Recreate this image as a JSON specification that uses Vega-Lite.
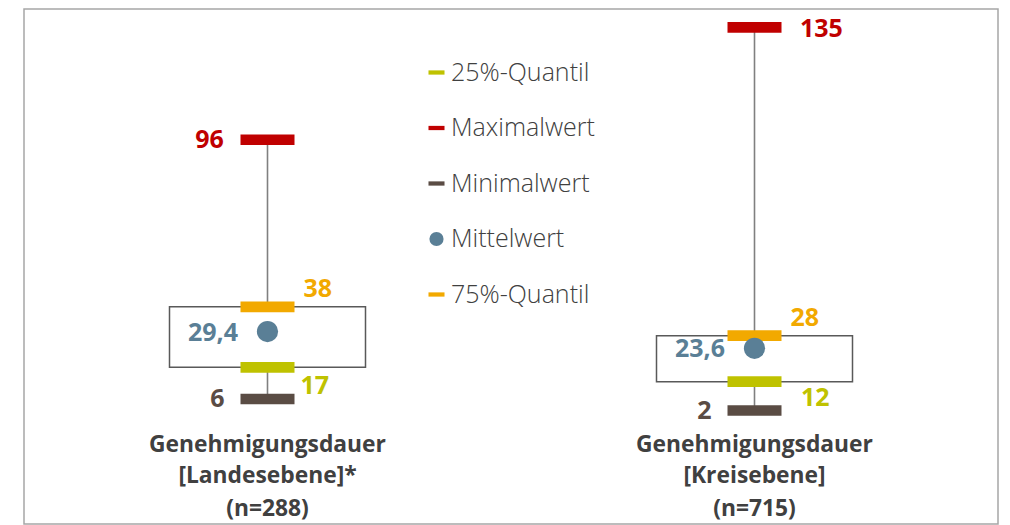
{
  "$schema": "https://vega.github.io/schema/vega-lite/v6.json",
  "width": 974,
  "height": 515,
  "autosize": "none",
  "padding": {"left": 24, "top": 9, "right": 12, "bottom": 1},
  "background": "white",
  "config": {
    "view": {"stroke": "#a6a6a6", "strokeWidth": 1.5},
    "locale": {"number": {"decimal": ",", "thousands": ".", "grouping": [3], "currency": ["", " €"]}},
    "text": {"font": "Open Sans"}
  },
  "data": {
    "values": [
      {"group": "L", "name": "Genehmigungsdauer\n[Landesebene]*", "n": "(n=288)", "25%-Quantil": 17, "Maximalwert": 96, "Minimalwert": 6, "Mittelwert": 29.4, "75%-Quantil": 38},
      {"group": "K", "name": "Genehmigungsdauer\n[Kreisebene]", "n": "(n=715)", "25%-Quantil": 12, "Maximalwert": 135, "Minimalwert": 2, "Mittelwert": 23.6, "75%-Quantil": 28}
    ]
  },
  "encoding": {
    "x": {"field": "group", "type": "nominal", "sort": ["L", "K"], "axis": null,
          "scale": {"type": "band", "paddingInner": 0, "paddingOuter": 0}}
  },
  "resolve": {"legend": {"color": "independent", "shape": "independent"}},
  "layer": [
    {
      "mark": {"type": "rule", "color": "#808080", "strokeWidth": 1.6},
      "encoding": {
        "y": {"field": "Minimalwert", "type": "quantitative", "axis": null,
              "scale": {"domain": [-37.4, 141.4], "nice": false, "zero": false}},
        "y2": {"field": "Maximalwert"}
      }
    },
    {
      "mark": {"type": "bar", "width": 196, "fill": "white", "stroke": "#595959", "strokeWidth": 1.5},
      "encoding": {
        "y": {"field": "25%-Quantil", "type": "quantitative"},
        "y2": {"field": "75%-Quantil"}
      }
    },
    {
      "transform": [{"fold": ["25%-Quantil", "Maximalwert", "Minimalwert", "75%-Quantil"], "as": ["stat", "value"]}],
      "mark": {"type": "tick", "size": 54, "thickness": 10.7, "opacity": 1},
      "encoding": {
        "y": {"field": "value", "type": "quantitative"},
        "color": {"field": "stat", "type": "nominal", "legend": null,
                  "scale": {"domain": ["25%-Quantil", "Maximalwert", "Minimalwert", "Mittelwert", "75%-Quantil"],
                            "range": ["#bfc200", "#c00000", "#5a4c44", "#5a7f96", "#f2a900"]}}
      }
    },
    {
      "transform": [{"fold": ["Mittelwert"], "as": ["stat", "value"]}],
      "mark": {"type": "point", "filled": true, "size": 450, "opacity": 1},
      "encoding": {
        "y": {"field": "value", "type": "quantitative"},
        "color": {"field": "stat", "type": "nominal",
                  "scale": {"domain": ["25%-Quantil", "Maximalwert", "Minimalwert", "Mittelwert", "75%-Quantil"],
                            "range": ["#bfc200", "#c00000", "#5a4c44", "#5a7f96", "#f2a900"]},
                  "legend": {"title": null, "orient": "none", "legendX": 400, "legendY": 51,
                             "padding": 0, "rowPadding": 29.5, "symbolSize": 201, "symbolStrokeWidth": 0,
                             "labelFont": "Open Sans", "labelFontSize": 25, "labelFontWeight": 300, "labelColor": "#404040",
                             "labelOffset": 2, "symbolOpacity": 1}},
        "shape": {"field": "stat", "type": "nominal",
                  "scale": {"domain": ["25%-Quantil", "Maximalwert", "Minimalwert", "Mittelwert", "75%-Quantil"],
                            "range": ["M-1.13,-0.3H1.13V0.3H-1.13Z", "M-1.13,-0.3H1.13V0.3H-1.13Z", "M-1.13,-0.3H1.13V0.3H-1.13Z", "circle", "M-1.13,-0.3H1.13V0.3H-1.13Z"]},
                  "legend": {"title": null, "orient": "none", "legendX": 400, "legendY": 51,
                             "padding": 0, "rowPadding": 29.5, "symbolSize": 201, "symbolStrokeWidth": 0,
                             "labelFont": "Open Sans", "labelFontSize": 25, "labelFontWeight": 300, "labelColor": "#404040",
                             "labelOffset": 2, "symbolOpacity": 1}}
      }
    },
    {
      "transform": [{"filter": "datum.group === 'L'"}],
      "mark": {"type": "text", "align": "right", "baseline": "middle", "dx": -43.6, "fontSize": 25, "fontWeight": "bold", "color": "#c00000"},
      "encoding": {"y": {"field": "Maximalwert", "type": "quantitative"}, "text": {"field": "Maximalwert", "format": ".1~f"}}
    },
    {
      "transform": [{"filter": "datum.group === 'K'"}],
      "mark": {"type": "text", "align": "left", "baseline": "middle", "dx": 45.4, "dy": 2, "fontSize": 25, "fontWeight": "bold", "color": "#c00000"},
      "encoding": {"y": {"field": "Maximalwert", "type": "quantitative"}, "text": {"field": "Maximalwert", "format": ".1~f"}}
    },
    {
      "mark": {"type": "text", "align": "left", "baseline": "middle", "dx": 36, "dy": -17.5, "fontSize": 25, "fontWeight": "bold", "color": "#f2a900"},
      "encoding": {"y": {"field": "75%-Quantil", "type": "quantitative"}, "text": {"field": "75%-Quantil", "format": ".1~f"}}
    },
    {
      "mark": {"type": "text", "align": "right", "baseline": "middle", "dx": -29.5, "dy": 1, "fontSize": 25, "fontWeight": "bold", "color": "#5a7f96"},
      "encoding": {"y": {"field": "Mittelwert", "type": "quantitative"}, "text": {"field": "Mittelwert", "format": ".1~f"}}
    },
    {
      "transform": [{"filter": "datum.group === 'L'"}],
      "mark": {"type": "text", "align": "left", "baseline": "middle", "dx": 33, "dy": 19, "fontSize": 25, "fontWeight": "bold", "color": "#bfc200"},
      "encoding": {"y": {"field": "25%-Quantil", "type": "quantitative"}, "text": {"field": "25%-Quantil", "format": ".1~f"}}
    },
    {
      "transform": [{"filter": "datum.group === 'K'"}],
      "mark": {"type": "text", "align": "left", "baseline": "middle", "dx": 46.4, "dy": 16.4, "fontSize": 25, "fontWeight": "bold", "color": "#bfc200"},
      "encoding": {"y": {"field": "25%-Quantil", "type": "quantitative"}, "text": {"field": "25%-Quantil", "format": ".1~f"}}
    },
    {
      "mark": {"type": "text", "align": "right", "baseline": "middle", "dx": -43, "dy": 0.5, "fontSize": 25, "fontWeight": "bold", "color": "#5a4c44"},
      "encoding": {"y": {"field": "Minimalwert", "type": "quantitative"}, "text": {"field": "Minimalwert", "format": ".1~f"}}
    },
    {
      "mark": {"type": "text", "align": "center", "baseline": "alphabetic", "lineBreak": "\n", "lineHeight": 31, "fontSize": 22.8, "fontWeight": "bold", "color": "#404040"},
      "encoding": {"y": {"datum": -12.3}, "text": {"field": "name"}}
    },
    {
      "mark": {"type": "text", "align": "center", "baseline": "alphabetic", "fontSize": 22.8, "fontWeight": "bold", "color": "#404040"},
      "encoding": {"y": {"datum": -34.5}, "text": {"field": "n"}}
    }
  ]
}
